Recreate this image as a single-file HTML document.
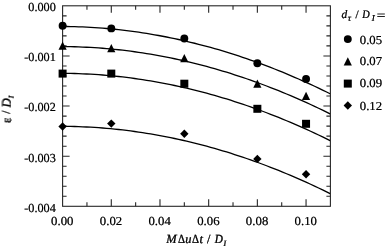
<!DOCTYPE html><html><head><meta charset="utf-8"><style>html,body{margin:0;padding:0;background:#fff;}svg{display:block}text{font-family:"Liberation Serif",serif;fill:#000}</style></head><body>
<svg width="386" height="248" viewBox="0 0 386 248">
<defs><clipPath id="cp"><rect x="62.6" y="5.8" width="267.8" height="200.5"/></clipPath></defs>
<g clip-path="url(#cp)" fill="none" stroke="#000" stroke-width="1.30">
<path d="M62.60 26.45 L66.60 26.49 L70.60 26.56 L74.60 26.66 L78.60 26.78 L82.60 26.94 L86.60 27.13 L90.60 27.34 L94.60 27.59 L98.60 27.86 L102.60 28.16 L106.60 28.50 L110.60 28.86 L114.60 29.25 L118.60 29.67 L122.60 30.12 L126.60 30.60 L130.60 31.11 L134.60 31.65 L138.60 32.22 L142.60 32.81 L146.60 33.44 L150.60 34.10 L154.60 34.78 L158.60 35.50 L162.60 36.24 L166.60 37.01 L170.60 37.82 L174.60 38.65 L178.60 39.51 L182.60 40.40 L186.60 41.32 L190.60 42.27 L194.60 43.25 L198.60 44.26 L202.60 45.30 L206.60 46.36 L210.60 47.46 L214.60 48.59 L218.60 49.74 L222.60 50.93 L226.60 52.14 L230.60 53.38 L234.60 54.66 L238.60 55.96 L242.60 57.29 L246.60 58.65 L250.60 60.04 L254.60 61.46 L258.60 62.91 L262.60 64.39 L266.60 65.90 L270.60 67.44 L274.60 69.00 L278.60 70.60 L282.60 72.22 L286.60 73.88 L290.60 75.56 L294.60 77.28 L298.60 79.02 L302.60 80.79 L306.60 82.59 L310.60 84.42 L314.60 86.28 L318.60 88.17 L322.60 90.09 L326.60 92.04 L330.60 94.02"/>
<path d="M62.60 46.55 L66.60 46.59 L70.60 46.66 L74.60 46.76 L78.60 46.88 L82.60 47.04 L86.60 47.23 L90.60 47.44 L94.60 47.69 L98.60 47.96 L102.60 48.26 L106.60 48.60 L110.60 48.96 L114.60 49.35 L118.60 49.77 L122.60 50.22 L126.60 50.70 L130.60 51.21 L134.60 51.75 L138.60 52.32 L142.60 52.91 L146.60 53.54 L150.60 54.20 L154.60 54.88 L158.60 55.60 L162.60 56.34 L166.60 57.11 L170.60 57.92 L174.60 58.75 L178.60 59.61 L182.60 60.50 L186.60 61.42 L190.60 62.37 L194.60 63.35 L198.60 64.36 L202.60 65.40 L206.60 66.46 L210.60 67.56 L214.60 68.69 L218.60 69.84 L222.60 71.03 L226.60 72.24 L230.60 73.48 L234.60 74.76 L238.60 76.06 L242.60 77.39 L246.60 78.75 L250.60 80.14 L254.60 81.56 L258.60 83.01 L262.60 84.49 L266.60 86.00 L270.60 87.54 L274.60 89.10 L278.60 90.70 L282.60 92.32 L286.60 93.98 L290.60 95.66 L294.60 97.38 L298.60 99.12 L302.60 100.89 L306.60 102.69 L310.60 104.52 L314.60 106.38 L318.60 108.27 L322.60 110.19 L326.60 112.14 L330.60 114.12"/>
<path d="M62.60 73.30 L66.60 73.34 L70.60 73.41 L74.60 73.51 L78.60 73.63 L82.60 73.79 L86.60 73.98 L90.60 74.19 L94.60 74.44 L98.60 74.71 L102.60 75.01 L106.60 75.35 L110.60 75.71 L114.60 76.10 L118.60 76.52 L122.60 76.97 L126.60 77.45 L130.60 77.96 L134.60 78.50 L138.60 79.07 L142.60 79.66 L146.60 80.29 L150.60 80.95 L154.60 81.63 L158.60 82.35 L162.60 83.09 L166.60 83.86 L170.60 84.67 L174.60 85.50 L178.60 86.36 L182.60 87.25 L186.60 88.17 L190.60 89.12 L194.60 90.10 L198.60 91.11 L202.60 92.15 L206.60 93.21 L210.60 94.31 L214.60 95.44 L218.60 96.59 L222.60 97.78 L226.60 98.99 L230.60 100.23 L234.60 101.51 L238.60 102.81 L242.60 104.14 L246.60 105.50 L250.60 106.89 L254.60 108.31 L258.60 109.76 L262.60 111.24 L266.60 112.75 L270.60 114.29 L274.60 115.85 L278.60 117.45 L282.60 119.07 L286.60 120.73 L290.60 122.41 L294.60 124.13 L298.60 125.87 L302.60 127.64 L306.60 129.44 L310.60 131.27 L314.60 133.13 L318.60 135.02 L322.60 136.94 L326.60 138.89 L330.60 140.87"/>
<path d="M62.60 126.30 L66.60 126.34 L70.60 126.41 L74.60 126.51 L78.60 126.63 L82.60 126.79 L86.60 126.98 L90.60 127.19 L94.60 127.44 L98.60 127.71 L102.60 128.01 L106.60 128.35 L110.60 128.71 L114.60 129.10 L118.60 129.52 L122.60 129.97 L126.60 130.45 L130.60 130.96 L134.60 131.50 L138.60 132.07 L142.60 132.66 L146.60 133.29 L150.60 133.95 L154.60 134.63 L158.60 135.35 L162.60 136.09 L166.60 136.86 L170.60 137.67 L174.60 138.50 L178.60 139.36 L182.60 140.25 L186.60 141.17 L190.60 142.12 L194.60 143.10 L198.60 144.11 L202.60 145.15 L206.60 146.21 L210.60 147.31 L214.60 148.44 L218.60 149.59 L222.60 150.78 L226.60 151.99 L230.60 153.23 L234.60 154.51 L238.60 155.81 L242.60 157.14 L246.60 158.50 L250.60 159.89 L254.60 161.31 L258.60 162.76 L262.60 164.24 L266.60 165.75 L270.60 167.29 L274.60 168.85 L278.60 170.45 L282.60 172.07 L286.60 173.73 L290.60 175.41 L294.60 177.13 L298.60 178.87 L302.60 180.64 L306.60 182.44 L310.60 184.27 L314.60 186.13 L318.60 188.02 L322.60 189.94 L326.60 191.89 L330.60 193.87"/>
</g>
<rect x="62.6" y="5.8" width="267.8" height="200.5" fill="none" stroke="#262626" stroke-width="1.10"/>
<path d="M86.95 206.35V202.35 M86.95 5.80V9.80 M111.29 206.35V199.35 M111.29 5.80V12.80 M135.64 206.35V202.35 M135.64 5.80V9.80 M159.98 206.35V199.35 M159.98 5.80V12.80 M184.33 206.35V202.35 M184.33 5.80V9.80 M208.67 206.35V199.35 M208.67 5.80V12.80 M233.02 206.35V202.35 M233.02 5.80V9.80 M257.36 206.35V199.35 M257.36 5.80V12.80 M281.71 206.35V202.35 M281.71 5.80V9.80 M306.05 206.35V199.35 M306.05 5.80V12.80 M62.60 15.83H66.60 M330.40 15.83H326.40 M62.60 25.86H66.60 M330.40 25.86H326.40 M62.60 35.88H66.60 M330.40 35.88H326.40 M62.60 45.91H66.60 M330.40 45.91H326.40 M62.60 55.94H69.60 M330.40 55.94H323.40 M62.60 65.97H66.60 M330.40 65.97H326.40 M62.60 75.99H66.60 M330.40 75.99H326.40 M62.60 86.02H66.60 M330.40 86.02H326.40 M62.60 96.05H66.60 M330.40 96.05H326.40 M62.60 106.07H69.60 M330.40 106.07H323.40 M62.60 116.10H66.60 M330.40 116.10H326.40 M62.60 126.13H66.60 M330.40 126.13H326.40 M62.60 136.16H66.60 M330.40 136.16H326.40 M62.60 146.19H66.60 M330.40 146.19H326.40 M62.60 156.21H69.60 M330.40 156.21H323.40 M62.60 166.24H66.60 M330.40 166.24H326.40 M62.60 176.27H66.60 M330.40 176.27H326.40 M62.60 186.29H66.60 M330.40 186.29H326.40 M62.60 196.32H66.60 M330.40 196.32H326.40" stroke="#262626" stroke-width="1.10" fill="none"/>
<g fill="#000">
<circle cx="62.60" cy="25.80" r="3.95"/>
<circle cx="111.29" cy="28.40" r="3.95"/>
<circle cx="184.33" cy="38.45" r="3.95"/>
<circle cx="257.36" cy="63.30" r="3.95"/>
<circle cx="306.05" cy="79.00" r="3.95"/>
<path d="M62.60 41.60L66.70 49.80L58.50 49.80Z"/>
<path d="M111.29 44.05L115.39 52.25L107.19 52.25Z"/>
<path d="M184.33 54.05L188.43 62.25L180.23 62.25Z"/>
<path d="M257.36 79.60L261.46 87.80L253.26 87.80Z"/>
<path d="M306.05 91.70L310.15 99.90L301.95 99.90Z"/>
<rect x="58.60" y="69.60" width="8.00" height="8.00"/>
<rect x="107.29" y="69.60" width="8.00" height="8.00"/>
<rect x="180.33" y="79.70" width="8.00" height="8.00"/>
<rect x="253.36" y="104.80" width="8.00" height="8.00"/>
<rect x="302.05" y="119.80" width="8.00" height="8.00"/>
<path d="M62.60 122.30L66.80 126.50L62.60 130.70L58.40 126.50Z"/>
<path d="M111.29 119.40L115.49 123.60L111.29 127.80L107.09 123.60Z"/>
<path d="M184.33 129.60L188.53 133.80L184.33 138.00L180.13 133.80Z"/>
<path d="M257.36 154.70L261.56 158.90L257.36 163.10L253.16 158.90Z"/>
<path d="M306.05 170.00L310.25 174.20L306.05 178.40L301.85 174.20Z"/>
<circle cx="347.80" cy="39.10" r="3.95"/>
<path d="M347.80 57.20L351.90 65.40L343.70 65.40Z"/>
<rect x="343.80" y="79.60" width="8.00" height="8.00"/>
<path d="M347.80 101.30L352.00 105.50L347.80 109.70L343.60 105.50Z"/>
</g>
<defs><filter id="ga"><feComponentTransfer><feFuncA type="gamma" amplitude="1" exponent="0.60" offset="0"/></feComponentTransfer></filter><filter id="gb"><feComponentTransfer><feFuncA type="gamma" amplitude="1" exponent="0.60" offset="0"/></feComponentTransfer></filter></defs>
<g filter="url(#gb)" stroke="#000" stroke-width="0.00" font-size="12.30">
<text transform="translate(55.90 11.10) skewX(0.40)" text-anchor="end">0.000</text>
<text transform="translate(55.90 61.24) skewX(0.40)" text-anchor="end">-0.001</text>
<text transform="translate(55.90 111.37) skewX(0.40)" text-anchor="end">-0.002</text>
<text transform="translate(55.90 161.51) skewX(0.40)" text-anchor="end">-0.003</text>
<text transform="translate(55.90 211.65) skewX(0.40)" text-anchor="end">-0.004</text>
<text transform="translate(62.30 225.10) scale(1.045 1) skewX(0.40)" text-anchor="middle">0.00</text>
<text transform="translate(110.99 225.10) scale(1.045 1) skewX(0.40)" text-anchor="middle">0.02</text>
<text transform="translate(159.68 225.10) scale(1.045 1) skewX(0.40)" text-anchor="middle">0.04</text>
<text transform="translate(208.37 225.10) scale(1.045 1) skewX(0.40)" text-anchor="middle">0.06</text>
<text transform="translate(257.06 225.10) scale(1.045 1) skewX(0.40)" text-anchor="middle">0.08</text>
<text transform="translate(305.75 225.10) scale(1.045 1) skewX(0.40)" text-anchor="middle">0.10</text>
<text transform="translate(359.73 43.50) scale(1.045 1) skewX(0.40)">0.05</text>
<text transform="translate(359.73 65.00) scale(1.045 1) skewX(0.40)">0.07</text>
<text transform="translate(359.73 87.10) scale(1.045 1) skewX(0.40)">0.09</text>
<text transform="translate(359.73 109.55) scale(1.045 1) skewX(0.40)">0.12</text>
</g>
<g filter="url(#ga)" stroke="#000" stroke-width="0.05">
<text transform="translate(341.55 17.80) skewX(0.40)" font-size="11.50" font-style="italic">d</text><text transform="translate(347.70 20.80) skewX(0.40)" font-size="9.00" font-style="italic">τ</text><text transform="translate(355.40 17.80) skewX(0.40)" font-size="11.50">/</text><text transform="translate(362.32 17.80) scale(0.900 1) skewX(0.40)" font-size="11.50" font-style="italic">D</text><text transform="translate(371.74 20.80) skewX(0.40)" font-size="9.00" font-style="italic">I</text>
<text transform="translate(376.82 19.20) scale(1.350 1) skewX(0.40)" font-size="11.50">=</text>
</g>
<g filter="url(#ga)" stroke="#000" stroke-width="0.08">
<text transform="translate(166.15 242.90) skewX(0.40)" font-size="12.50" font-style="italic">M</text><text transform="translate(177.98 242.90) scale(0.880 1) skewX(0.40)" font-size="12.50">Δ</text><text transform="translate(185.18 242.90) skewX(0.40)" font-size="12.50" font-style="italic">u</text><text transform="translate(191.98 242.90) scale(0.880 1) skewX(0.40)" font-size="12.50">Δ</text><text transform="translate(199.45 242.90) skewX(0.40)" font-size="12.50" font-style="italic">t</text><text transform="translate(206.90 242.90) skewX(0.40)" font-size="12.50">/</text><text transform="translate(214.83 242.90) scale(0.900 1) skewX(0.40)" font-size="12.50" font-style="italic">D</text><text transform="translate(223.53 245.70) skewX(0.40)" font-size="8.00" font-style="italic">I</text>
<g transform="translate(10.70,0.00) rotate(-90)">
<text transform="translate(-123.09 -0.30) skewX(0.40)" font-size="12.80">ε</text><text transform="translate(-113.80 -0.90) skewX(0.40)" font-size="11.50">/</text><text transform="translate(-107.56 0.00) skewX(0.40)" font-size="12.80" font-style="italic">D</text><text transform="translate(-98.37 3.00) skewX(0.40)" font-size="7.50" font-style="italic">I</text>
</g>
</g>
</svg></body></html>
